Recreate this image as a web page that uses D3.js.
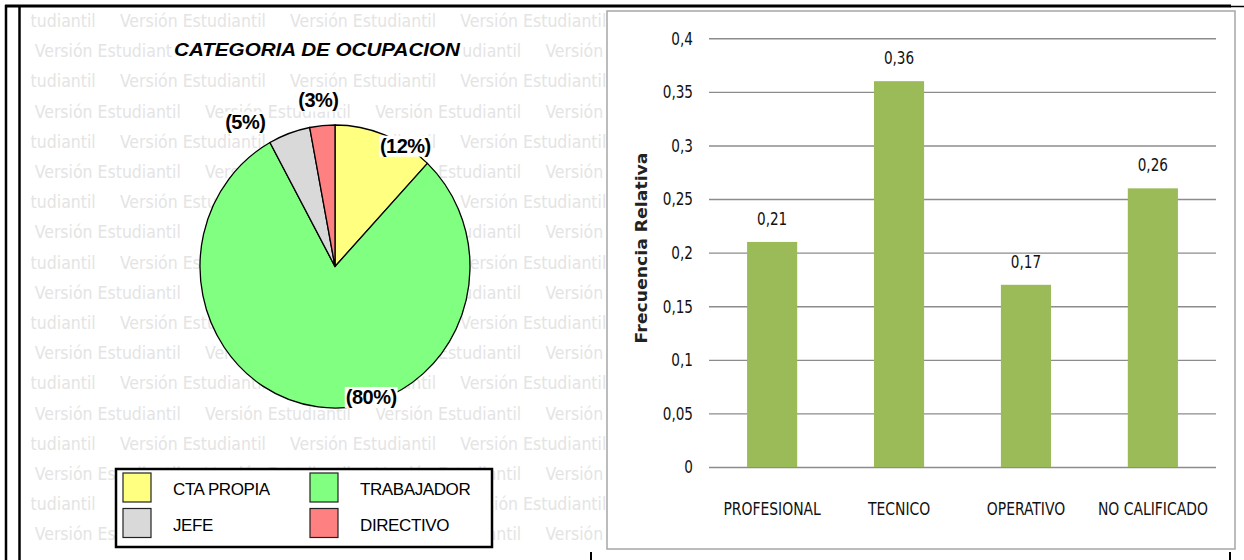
<!DOCTYPE html>
<html>
<head>
<meta charset="utf-8">
<script src="https://cdn.jsdelivr.net/npm/d3@7"></script>
<style>
  body { margin: 0; background: #fff; }
  svg { display: block; }
</style>
</head>
<body>
<svg id="chart" width="1244" height="560"></svg>
<script>
// pie data
var pieCategories = ["CTA PROPIA", "TRABAJADOR", "JEFE", "DIRECTIVO"]
var pieValues = [12, 80, 5, 3]
var pieColors = ["#ffff80", "#80ff80", "#d9d9d9", "#ff8080"]

// bar data
var barCategories = ["PROFESIONAL", "TECNICO", "OPERATIVO", "NO CALIFICADO"]
var barValues = [0.21, 0.36, 0.17, 0.26]
var yTicks = [0, 0.05, 0.1, 0.15, 0.2, 0.25, 0.3, 0.35, 0.4]

var narrow = '"Liberation Sans Narrow", "DejaVu Sans Condensed", sans-serif'
var arial = '"Liberation Sans", Arial, sans-serif'

var svg = d3.select('#chart')
var fmt = d3.formatLocale({decimal: ",", thousands: ".", grouping: [3], currency: ["", ""]}).format(".2~f")

// squeeze text horizontally (the original uses a tall narrow font)
function squeeze(sel, f) {
  sel.each(function() {
    var len = this.getComputedTextLength()
    d3.select(this).attr("textLength", len * f).attr("lengthAdjust", "spacingAndGlyphs")
  })
}

// ---------- left panel: watermark ----------
svg.append("clipPath").attr("id", "wmClip")
  .append("rect").attr("x", 31).attr("y", 8).attr("width", 575).attr("height", 552)

var wm = svg.append("g").attr("clip-path", "url(#wmClip)")
for (var i = 0; i < 18; i++) {
  var start = (i % 2 == 0) ? -50.3 : 34.8
  for (var k = 0; k < 5; k++) {
    wm.append("text")
      .attr("x", start + k * 170.2)
      .attr("y", 27 + i * 30.2)
      .attr("textLength", 146)
      .attr("lengthAdjust", "spacingAndGlyphs")
      .attr("font-family", narrow)
      .attr("font-size", 17)
      .attr("fill", "#e4e4e4")
      .text("Versión Estudiantil")
  }
}

// title with white background
var titleG = svg.append("g")
titleG.append("rect").attr("x", 172).attr("y", 38).attr("width", 290).attr("height", 23).attr("fill", "#fff")
titleG.append("text")
  .attr("x", 317).attr("y", 56)
  .attr("text-anchor", "middle")
  .attr("font-family", arial)
  .attr("font-weight", "bold")
  .attr("font-style", "italic")
  .attr("font-size", 18)
  .attr("textLength", 286)
  .attr("lengthAdjust", "spacingAndGlyphs")
  .text("CATEGORIA DE OCUPACION")

// pie (slightly elliptical like the original)
var cx = 335, cy = 266.5, ry = 141.5, rx = 135
var pie = d3.pie().sort(null).value(d => d)
var arcs = pie(pieValues)
var arc = d3.arc().innerRadius(0).outerRadius(ry)

svg.append("g")
  .attr("transform", "translate(" + cx + "," + cy + ") scale(" + (rx / ry) + ",1)")
  .selectAll("path")
  .data(arcs)
  .join("path")
  .attr("d", arc)
  .attr("fill", (d, i) => pieColors[i])
  .attr("stroke", "#000")
  .attr("stroke-width", 1.3)
  .attr("vector-effect", "non-scaling-stroke")

// label placement nudges (angle shift in degrees, radius factor), Excel "best fit" look
var labelNudge = [[9.8, 1.0], [-23.4, 0.96], [-13.2, 1.22], [-0.6, 1.18]]
var labelG = svg.append("g")
arcs.forEach(function(d, i) {
  var a = (d.startAngle + d.endAngle) / 2 + labelNudge[i][0] * Math.PI / 180
  var f = labelNudge[i][1]
  var x = cx + rx * f * Math.sin(a)
  var y = cy - ry * f * Math.cos(a)
  var g = labelG.append("g")
  var bg = g.append("rect").attr("fill", "#fff")
  var t = g.append("text")
    .attr("x", x).attr("y", y)
    .attr("text-anchor", "middle")
    .attr("dominant-baseline", "central")
    .attr("font-family", arial)
    .attr("font-weight", "bold")
    .attr("font-size", 20)
    .attr("letter-spacing", -0.5)
    .text("(" + d.data + "%)")
  var b = t.node().getBBox()
  bg.attr("x", b.x - 1).attr("y", b.y + 1).attr("width", b.width + 2).attr("height", b.height - 1)
})

// legend
var legend = svg.append("g")
legend.append("rect")
  .attr("x", 116).attr("y", 469).attr("width", 376).attr("height", 78)
  .attr("fill", "#fff").attr("stroke", "#000").attr("stroke-width", 2.5)
var li = legend.selectAll("g.item")
  .data(pieCategories)
  .join("g")
  .attr("class", "item")
  .attr("transform", (d, i) => "translate(" + (123 + (i % 2) * 187) + "," + (473 + Math.floor(i / 2) * 35.5) + ")")
li.append("rect")
  .attr("width", 28).attr("height", 29)
  .attr("fill", (d, i) => pieColors[i])
  .attr("stroke", "#222").attr("stroke-width", 1.2)
li.append("text")
  .attr("x", 50).attr("y", 22)
  .attr("font-family", arial)
  .attr("font-size", 17)
  .attr("letter-spacing", -0.4)
  .text(d => d)

// ---------- right panel: bar chart ----------
svg.append("rect")
  .attr("x", 607).attr("y", 11).attr("width", 628).attr("height", 538)
  .attr("fill", "#fff").attr("stroke", "#a6a6a6").attr("stroke-width", 1.5)

var plotL = 709, plotR = 1216
var x = d3.scaleBand().domain(barCategories).range([plotL, plotR]).paddingInner(0.605).paddingOuter(0.3)
var y = d3.scaleLinear().domain([0, 0.4]).range([467, 38.3])

var yAxis = svg.append("g")
  .attr("transform", "translate(" + plotL + ",0)")
  .call(d3.axisLeft(y).tickValues(yTicks).tickFormat(fmt).tickSize(-(plotR - plotL)).tickPadding(16))
yAxis.select(".domain").remove()
yAxis.selectAll(".tick line").attr("stroke", "#8c8c8c").attr("stroke-width", 1.4)
yAxis.selectAll(".tick text").attr("font-family", narrow).attr("font-size", 18).attr("fill", "#111")
squeeze(yAxis.selectAll(".tick text"), 0.84)

svg.append("g")
  .selectAll("rect")
  .data(barValues)
  .join("rect")
  .attr("x", (d, i) => x(barCategories[i]))
  .attr("y", d => y(d))
  .attr("width", x.bandwidth())
  .attr("height", d => y(0) - y(d))
  .attr("fill", "#9bbb59")

var vals = svg.append("g")
  .selectAll("text")
  .data(barValues)
  .join("text")
  .attr("x", (d, i) => x(barCategories[i]) + x.bandwidth() / 2)
  .attr("y", d => y(d) - 17)
  .attr("text-anchor", "middle")
  .attr("font-family", narrow)
  .attr("font-size", 18)
  .attr("fill", "#111")
  .text(d => fmt(d))
squeeze(vals, 0.84)

var xAxis = svg.append("g")
  .attr("transform", "translate(0," + y(0) + ")")
  .call(d3.axisBottom(x).tickSize(0).tickPadding(35))
xAxis.select(".domain").remove()
xAxis.selectAll(".tick text").attr("font-family", narrow).attr("font-size", 18).attr("fill", "#111")
squeeze(xAxis.selectAll(".tick text"), 0.86)

svg.append("text")
  .attr("transform", "translate(642,248) rotate(-90)")
  .attr("text-anchor", "middle")
  .attr("dominant-baseline", "central")
  .attr("font-family", '"DejaVu Sans", Verdana, sans-serif')
  .attr("font-weight", "bold")
  .attr("font-size", 15.5)
  .attr("textLength", 191)
  .attr("lengthAdjust", "spacingAndGlyphs")
  .attr("fill", "#222")
  .text("Frecuencia Relativa")

// ---------- page frame lines ----------
var frame = svg.append("g").attr("stroke", "#000")
frame.append("line").attr("x1", 5).attr("y1", 6).attr("x2", 1231).attr("y2", 6).attr("stroke-width", 3)
frame.append("line").attr("x1", 1230).attr("y1", 6.5).attr("x2", 1244).attr("y2", 6.5).attr("stroke-width", 1.5)
frame.append("line").attr("x1", 6).attr("y1", 5).attr("x2", 6).attr("y2", 560).attr("stroke-width", 2.5)
frame.append("line").attr("x1", 19.5).attr("y1", 6).attr("x2", 19.5).attr("y2", 560).attr("stroke-width", 2.5)
frame.append("line").attr("x1", 591).attr("y1", 552).attr("x2", 591).attr("y2", 560).attr("stroke-width", 2)
frame.append("line").attr("x1", 1230).attr("y1", 552).attr("x2", 1230).attr("y2", 560).attr("stroke-width", 2)
</script>
</body>
</html>
